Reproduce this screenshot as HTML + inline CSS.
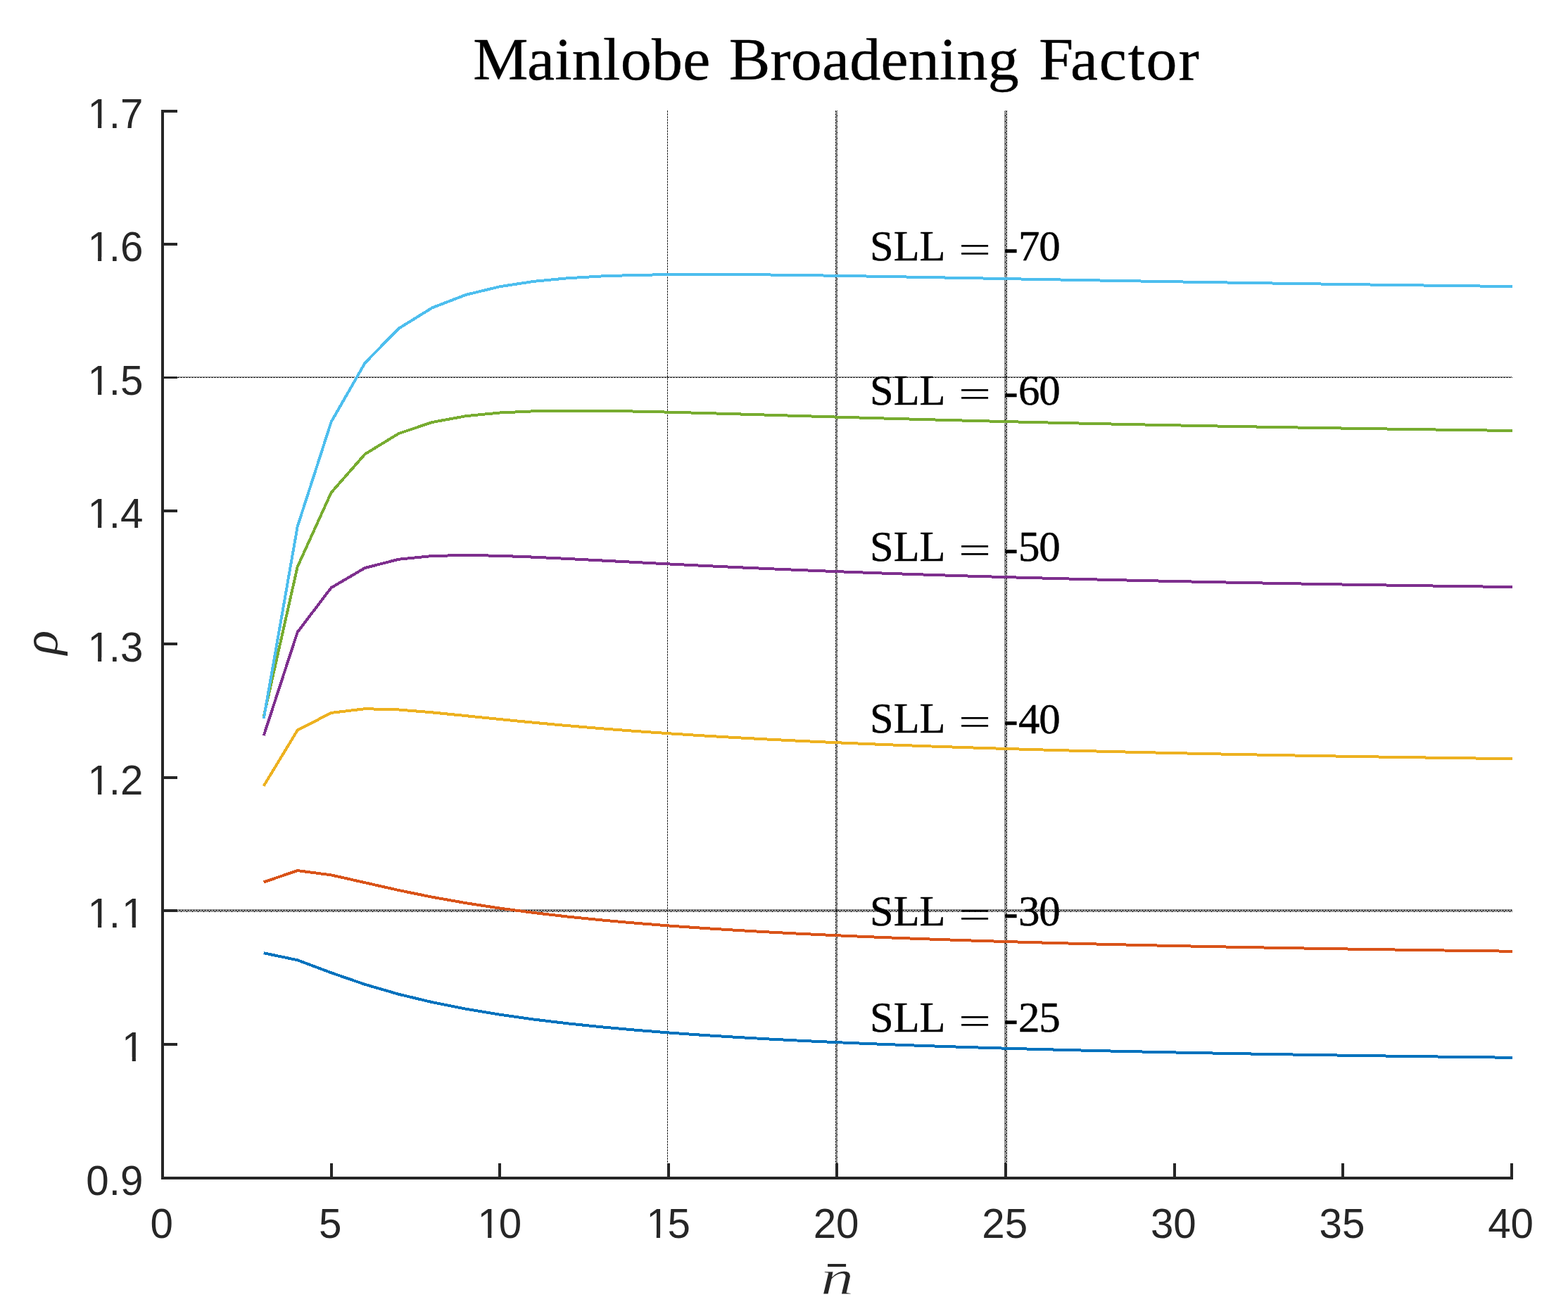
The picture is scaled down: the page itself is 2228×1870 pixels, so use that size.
<!DOCTYPE html>
<html lang="en"><head><meta charset="utf-8"><title>Mainlobe Broadening Factor</title>
<style>
html,body{margin:0;padding:0;background:#fff;}
body{width:2228px;height:1870px;overflow:hidden;}
svg{display:block;}
text{font-kerning:none;white-space:pre;}
.tk{font-family:"Liberation Sans",Arial,Helvetica,sans-serif;font-size:58.33px;fill:#262626;}
.rm{font-family:"Liberation Serif","Times New Roman",Times,serif;fill:#000;}
.it{font-family:"Liberation Serif","Times New Roman",Times,serif;font-style:italic;fill:#262626;}
</style></head><body>
<svg width="2228" height="1870" viewBox="0 0 2228 1870">
<defs>
<pattern id="v25" x="1427" y="157" width="4" height="8" patternUnits="userSpaceOnUse"><g fill="#262626" shape-rendering="crispEdges"><rect x="1" y="0" width="1" height="1"/><rect x="3" y="0" width="1" height="1"/><rect x="0" y="1" width="1" height="1"/><rect x="2" y="1" width="2" height="1"/><rect x="1" y="2" width="1" height="1"/><rect x="3" y="2" width="1" height="1"/><rect x="0" y="3" width="1" height="1"/><rect x="2" y="3" width="1" height="1"/><rect x="1" y="4" width="1" height="1"/><rect x="3" y="4" width="1" height="1"/><rect x="0" y="5" width="1" height="1"/><rect x="2" y="5" width="2" height="1"/><rect x="1" y="6" width="1" height="1"/><rect x="3" y="6" width="1" height="1"/><rect x="0" y="7" width="3" height="1"/></g></pattern>
<pattern id="v20" x="1187" y="157" width="3" height="8" patternUnits="userSpaceOnUse"><g fill="#262626" shape-rendering="crispEdges"><rect x="0" y="0" width="1" height="1"/><rect x="2" y="0" width="1" height="1"/><rect x="0" y="1" width="2" height="1"/><rect x="0" y="2" width="1" height="1"/><rect x="2" y="2" width="1" height="1"/><rect x="1" y="3" width="1" height="1"/><rect x="0" y="4" width="1" height="1"/><rect x="2" y="4" width="1" height="1"/><rect x="0" y="5" width="2" height="1"/><rect x="0" y="6" width="1" height="1"/><rect x="2" y="6" width="1" height="1"/><rect x="1" y="7" width="2" height="1"/></g></pattern>
<pattern id="v15" x="948" y="157" width="1" height="4" patternUnits="userSpaceOnUse"><g fill="#262626" shape-rendering="crispEdges"><rect x="0" y="0" width="1" height="1"/><rect x="0" y="1" width="1" height="1"/><rect x="0" y="2" width="1" height="1"/></g></pattern>
<pattern id="h15" x="252" y="535" width="4" height="2" patternUnits="userSpaceOnUse"><g fill="#262626" shape-rendering="crispEdges"><rect x="1" y="0" width="1" height="1"/><rect x="3" y="0" width="1" height="1"/><rect x="0" y="1" width="3" height="1"/></g></pattern>
<pattern id="h11" x="252" y="1292" width="8" height="4" patternUnits="userSpaceOnUse"><g fill="#262626" shape-rendering="crispEdges"><rect x="1" y="0" width="1" height="1"/><rect x="3" y="0" width="1" height="1"/><rect x="5" y="0" width="1" height="1"/><rect x="7" y="0" width="1" height="1"/><rect x="0" y="1" width="1" height="1"/><rect x="2" y="1" width="3" height="1"/><rect x="6" y="1" width="2" height="1"/><rect x="1" y="2" width="1" height="1"/><rect x="3" y="2" width="1" height="1"/><rect x="5" y="2" width="1" height="1"/><rect x="7" y="2" width="1" height="1"/><rect x="0" y="3" width="1" height="1"/><rect x="2" y="3" width="1" height="1"/><rect x="4" y="3" width="3" height="1"/></g></pattern>
<clipPath id="k1"><rect x="658.51" y="1689" width="104.88" height="64.45"/><rect x="658.51" y="1753.44" width="22.94" height="35.56"/><rect x="693.18" y="1753.44" width="5.16" height="35.56"/><rect x="709.6" y="1753.44" width="53.79" height="35.56"/></clipPath>
<clipPath id="k2"><rect x="898.13" y="1689" width="104.88" height="64.45"/><rect x="898.13" y="1753.44" width="22.94" height="35.56"/><rect x="932.8" y="1753.44" width="5.16" height="35.56"/><rect x="949.23" y="1753.44" width="53.79" height="35.56"/></clipPath>
<clipPath id="k3"><rect x="153.06" y="1438" width="72.44" height="64.45"/><rect x="153.06" y="1502.44" width="22.94" height="35.56"/><rect x="187.73" y="1502.44" width="5.16" height="35.56"/><rect x="204.15" y="1502.44" width="21.35" height="35.56"/></clipPath>
<clipPath id="k4"><rect x="104.41" y="1248" width="121.09" height="64.45"/><rect x="104.41" y="1312.44" width="22.94" height="35.56"/><rect x="139.08" y="1312.44" width="5.16" height="35.56"/><rect x="155.51" y="1312.44" width="20.5" height="35.56"/><rect x="187.73" y="1312.44" width="5.16" height="35.56"/><rect x="204.15" y="1312.44" width="21.35" height="35.56"/></clipPath>
<clipPath id="k5"><rect x="104.41" y="1059" width="121.09" height="64.45"/><rect x="104.41" y="1123.44" width="22.94" height="35.56"/><rect x="139.08" y="1123.44" width="5.16" height="35.56"/><rect x="155.51" y="1123.44" width="69.99" height="35.56"/></clipPath>
<clipPath id="k6"><rect x="104.41" y="870" width="121.09" height="64.45"/><rect x="104.41" y="934.44" width="22.94" height="35.56"/><rect x="139.08" y="934.44" width="5.16" height="35.56"/><rect x="155.51" y="934.44" width="69.99" height="35.56"/></clipPath>
<clipPath id="k7"><rect x="104.41" y="680" width="121.09" height="64.45"/><rect x="104.41" y="744.44" width="22.94" height="35.56"/><rect x="139.08" y="744.44" width="5.16" height="35.56"/><rect x="155.51" y="744.44" width="69.99" height="35.56"/></clipPath>
<clipPath id="k8"><rect x="104.41" y="491" width="121.09" height="64.45"/><rect x="104.41" y="555.44" width="22.94" height="35.56"/><rect x="139.08" y="555.44" width="5.16" height="35.56"/><rect x="155.51" y="555.44" width="69.99" height="35.56"/></clipPath>
<clipPath id="k9"><rect x="104.41" y="301" width="121.09" height="64.45"/><rect x="104.41" y="365.44" width="22.94" height="35.56"/><rect x="139.08" y="365.44" width="5.16" height="35.56"/><rect x="155.51" y="365.44" width="69.99" height="35.56"/></clipPath>
<clipPath id="k10"><rect x="104.41" y="112" width="121.09" height="64.45"/><rect x="104.41" y="176.44" width="22.94" height="35.56"/><rect x="139.08" y="176.44" width="5.16" height="35.56"/><rect x="155.51" y="176.44" width="69.99" height="35.56"/></clipPath>
</defs>
<g shape-rendering="crispEdges">
<rect x="948" y="157" width="1" height="1515" fill="url(#v15)"/>
<rect x="1187" y="157" width="3" height="1515" fill="url(#v20)"/>
<rect x="1427" y="157" width="4" height="1515" fill="url(#v25)"/>
<rect x="252" y="535" width="1897" height="2" fill="url(#h15)"/>
<rect x="252" y="1292" width="1897" height="4" fill="url(#h11)"/>
</g>
<g fill="none" stroke-width="4" stroke-linejoin="round" stroke-linecap="butt" shape-rendering="crispEdges">
<polyline stroke="#0072BD" points="374.77,1354.21 422.7,1364.27 470.62,1382.25 518.55,1398.83 566.48,1412.74 614.4,1424.24 662.33,1433.77 710.25,1441.75 758.17,1448.5 806.1,1454.27 854.02,1459.26 901.95,1463.61 949.88,1467.43 997.8,1470.81 1045.72,1473.83 1093.65,1476.53 1141.58,1478.97 1189.5,1481.17 1237.42,1483.18 1285.35,1485.02 1333.28,1486.7 1381.2,1488.25 1429.12,1489.68 1477.05,1491.01 1524.97,1492.24 1572.9,1493.39 1620.83,1494.46 1668.75,1495.46 1716.67,1496.4 1764.6,1497.28 1812.53,1498.11 1860.45,1498.89 1908.38,1499.63 1956.3,1500.33 2004.22,1501 2052.15,1501.63 2100.07,1502.22 2148,1502.79 2149,1502.79"/>
<polyline stroke="#D95319" points="374.77,1253.43 422.7,1237.08 470.62,1243.38 518.55,1254.2 566.48,1265.03 614.4,1274.76 662.33,1283.25 710.25,1290.6 758.17,1296.96 806.1,1302.5 854.02,1307.35 901.95,1311.63 949.88,1315.42 997.8,1318.8 1045.72,1321.83 1093.65,1324.56 1141.58,1327.03 1189.5,1329.28 1237.42,1331.34 1285.35,1333.22 1333.28,1334.96 1381.2,1336.55 1429.12,1338.03 1477.05,1339.41 1524.97,1340.69 1572.9,1341.88 1620.83,1342.99 1668.75,1344.04 1716.67,1345.02 1764.6,1345.94 1812.53,1346.81 1860.45,1347.63 1908.38,1348.41 1956.3,1349.14 2004.22,1349.84 2052.15,1350.5 2100.07,1351.13 2148,1351.73 2149,1351.73"/>
<polyline stroke="#EDB120" points="374.77,1116.7 422.7,1037.66 470.62,1012.93 518.55,1007.16 566.48,1008.46 614.4,1012.39 662.33,1017.17 710.25,1022.06 758.17,1026.75 806.1,1031.13 854.02,1035.17 901.95,1038.86 949.88,1042.23 997.8,1045.31 1045.72,1048.12 1093.65,1050.7 1141.58,1053.07 1189.5,1055.26 1237.42,1057.27 1285.35,1059.13 1333.28,1060.86 1381.2,1062.46 1429.12,1063.96 1477.05,1065.36 1524.97,1066.66 1572.9,1067.89 1620.83,1069.03 1668.75,1070.12 1716.67,1071.14 1764.6,1072.1 1812.53,1073.01 1860.45,1073.87 1908.38,1074.68 1956.3,1075.46 2004.22,1076.19 2052.15,1076.9 2100.07,1077.56 2148,1078.2 2149,1078.2"/>
<polyline stroke="#7E2F8E" points="374.77,1045.22 422.7,898.25 470.62,835.11 518.55,807.05 566.48,794.75 614.4,789.97 662.33,788.94 710.25,789.81 758.17,791.65 806.1,793.95 854.02,796.43 901.95,798.95 949.88,801.42 997.8,803.8 1045.72,806.07 1093.65,808.22 1141.58,810.25 1189.5,812.15 1237.42,813.94 1285.35,815.63 1333.28,817.21 1381.2,818.7 1429.12,820.1 1477.05,821.42 1524.97,822.67 1572.9,823.85 1620.83,824.96 1668.75,826.01 1716.67,827.01 1764.6,827.96 1812.53,828.86 1860.45,829.71 1908.38,830.53 1956.3,831.3 2004.22,832.04 2052.15,832.75 2100.07,833.42 2148,834.07 2149,834.07"/>
<polyline stroke="#77AC30" points="374.77,1018.33 422.7,805.37 470.62,699.92 518.55,645.36 566.48,616.04 614.4,599.94 662.33,591.13 710.25,586.48 758.17,584.3 806.1,583.6 854.02,583.8 901.95,584.56 949.88,585.65 997.8,586.93 1045.72,588.31 1093.65,589.74 1141.58,591.18 1189.5,592.6 1237.42,593.98 1285.35,595.33 1333.28,596.63 1381.2,597.88 1429.12,599.08 1477.05,600.23 1524.97,601.33 1572.9,602.38 1620.83,603.38 1668.75,604.34 1716.67,605.26 1764.6,606.14 1812.53,606.98 1860.45,607.78 1908.38,608.55 1956.3,609.29 2004.22,610 2052.15,610.68 2100.07,611.33 2148,611.96 2149,611.96"/>
<polyline stroke="#4DBEEE" points="374.77,1020.99 422.7,748.24 470.62,599.54 518.55,515.8 566.48,466.81 614.4,437.18 662.33,418.8 710.25,407.22 758.17,399.9 806.1,395.31 854.02,392.51 901.95,390.92 949.88,390.14 997.8,389.91 1045.72,390.07 1093.65,390.49 1141.58,391.09 1189.5,391.81 1237.42,392.61 1285.35,393.46 1333.28,394.33 1381.2,395.22 1429.12,396.1 1477.05,396.98 1524.97,397.84 1572.9,398.68 1620.83,399.51 1668.75,400.31 1716.67,401.09 1764.6,401.84 1812.53,402.57 1860.45,403.28 1908.38,403.96 1956.3,404.63 2004.22,405.27 2052.15,405.88 2100.07,406.48 2148,407.06 2149,407.06"/>
</g>
<g fill="#262626" shape-rendering="crispEdges">
<rect x="229" y="156" width="4" height="1520"/>
<rect x="229" y="1672" width="1921" height="4"/>
<rect x="469" y="1653" width="4" height="21"/>
<rect x="708" y="1653" width="4" height="21"/>
<rect x="948" y="1653" width="4" height="21"/>
<rect x="1187" y="1653" width="4" height="21"/>
<rect x="1427" y="1653" width="4" height="21"/>
<rect x="1667" y="1653" width="4" height="21"/>
<rect x="1906" y="1653" width="4" height="21"/>
<rect x="2146" y="1653" width="4" height="21"/>
<rect x="231" y="1672" width="21" height="4"/>
<rect x="231" y="1482" width="21" height="4"/>
<rect x="231" y="1292" width="21" height="4"/>
<rect x="231" y="1103" width="21" height="4"/>
<rect x="231" y="913" width="21" height="4"/>
<rect x="231" y="724" width="21" height="4"/>
<rect x="231" y="535" width="21" height="3"/>
<rect x="231" y="345" width="21" height="4"/>
<rect x="231" y="156" width="21" height="4"/>
</g>
<g class="tk">
<text x="213.38" y="1759">0</text>
<text x="453" y="1759">5</text>
<text x="678.51 708.85" y="1759" clip-path="url(#k1)">10</text>
<text x="918.13 948.48" y="1759" clip-path="url(#k2)">15</text>
<text x="1155.66 1188.1" y="1759">20</text>
<text x="1395.28 1427.72" y="1759">25</text>
<text x="1634.91 1667.35" y="1759">30</text>
<text x="1874.53 1906.97" y="1759">35</text>
<text x="2114.16 2146.6" y="1759">40</text>
<text x="122.31 154.75 170.96" y="1698">0.9</text>
<text x="173.06" y="1508" clip-path="url(#k3)">1</text>
<text x="124.41 154.75 173.06" y="1318" clip-path="url(#k4)">1.1</text>
<text x="124.41 154.75 170.96" y="1129" clip-path="url(#k5)">1.2</text>
<text x="124.41 154.75 170.96" y="940" clip-path="url(#k6)">1.3</text>
<text x="124.41 154.75 170.96" y="750" clip-path="url(#k7)">1.4</text>
<text x="124.41 154.75 170.96" y="561" clip-path="url(#k8)">1.5</text>
<text x="124.41 154.75 170.96" y="371" clip-path="url(#k9)">1.6</text>
<text x="124.41 154.75 170.96" y="182" clip-path="url(#k10)">1.7</text>
</g>
<text class="rm" font-size="88" transform="matrix(1 0 0 0.96 0 112.6)" x="672.35 748.91 788.22 812.83 857.11 881.72 926.01 970.29 1000.29 1035.63 1094.24 1123.69 1167.92 1207.17 1251.4 1290.65 1334.88 1359.45 1403.68 1433.68 1476.35 1520.91 1561.86 1602.81 1628.44 1674.57" y="0" stroke="#000" stroke-width="0.4" vector-effect="non-scaling-stroke" stroke-linejoin="round">Mainlobe Broadening Factor</text>
<text class="it" font-size="70" transform="matrix(1.3547 0 0 0.9926 1166.07 1839.42)" stroke="#fff" stroke-width="1.1" vector-effect="non-scaling-stroke">n</text>
<text class="it" font-size="40" transform="matrix(1.2570 0 0 2.1787 1172.42 1861.79)">¯</text>
<text class="it" font-size="68.9" transform="translate(81.33 930.18) rotate(-90) scale(1.0386 1)">ρ</text>
<g>
<text class="rm" font-size="61" transform="matrix(0.9895 0 0 1.0000 1236.09 1465.5)" stroke="#000" stroke-width="0.45" vector-effect="non-scaling-stroke" stroke-linejoin="round">SLL</text>
<text class="rm" font-size="61" transform="matrix(1.3387 0 0 0.9150 1362.03 1469)">=</text>
<text class="rm" font-size="61" x="1426.26 1446.88 1476.28" y="1466.9 1466.1 1466.1" stroke="#000" stroke-width="0.45" vector-effect="non-scaling-stroke" stroke-linejoin="round">-25</text>
<text class="rm" font-size="61" transform="matrix(0.9895 0 0 1.0000 1236.09 1314.5)" stroke="#000" stroke-width="0.45" vector-effect="non-scaling-stroke" stroke-linejoin="round">SLL</text>
<text class="rm" font-size="61" transform="matrix(1.3387 0 0 0.9150 1362.03 1318)">=</text>
<text class="rm" font-size="61" x="1426.26 1446.88 1476.28" y="1315.9 1315.1 1315.1" stroke="#000" stroke-width="0.45" vector-effect="non-scaling-stroke" stroke-linejoin="round">-30</text>
<text class="rm" font-size="61" transform="matrix(0.9895 0 0 1.0000 1236.09 1040.9)" stroke="#000" stroke-width="0.45" vector-effect="non-scaling-stroke" stroke-linejoin="round">SLL</text>
<text class="rm" font-size="61" transform="matrix(1.3387 0 0 0.9150 1362.03 1044.4)">=</text>
<text class="rm" font-size="61" x="1426.26 1446.88 1476.28" y="1042.3 1041.5 1041.5" stroke="#000" stroke-width="0.45" vector-effect="non-scaling-stroke" stroke-linejoin="round">-40</text>
<text class="rm" font-size="61" transform="matrix(0.9895 0 0 1.0000 1236.09 796.8)" stroke="#000" stroke-width="0.45" vector-effect="non-scaling-stroke" stroke-linejoin="round">SLL</text>
<text class="rm" font-size="61" transform="matrix(1.3387 0 0 0.9150 1362.03 800.3)">=</text>
<text class="rm" font-size="61" x="1426.26 1446.88 1476.28" y="798.2 797.4 797.4" stroke="#000" stroke-width="0.45" vector-effect="non-scaling-stroke" stroke-linejoin="round">-50</text>
<text class="rm" font-size="61" transform="matrix(0.9895 0 0 1.0000 1236.09 574.7)" stroke="#000" stroke-width="0.45" vector-effect="non-scaling-stroke" stroke-linejoin="round">SLL</text>
<text class="rm" font-size="61" transform="matrix(1.3387 0 0 0.9150 1362.03 578.2)">=</text>
<text class="rm" font-size="61" x="1426.26 1446.88 1476.28" y="576.1 575.3 575.3" stroke="#000" stroke-width="0.45" vector-effect="non-scaling-stroke" stroke-linejoin="round">-60</text>
<text class="rm" font-size="61" transform="matrix(0.9895 0 0 1.0000 1236.09 369.8)" stroke="#000" stroke-width="0.45" vector-effect="non-scaling-stroke" stroke-linejoin="round">SLL</text>
<text class="rm" font-size="61" transform="matrix(1.3387 0 0 0.9150 1362.03 373.3)">=</text>
<text class="rm" font-size="61" x="1426.26 1446.88 1476.28" y="371.2 370.4 370.4" stroke="#000" stroke-width="0.45" vector-effect="non-scaling-stroke" stroke-linejoin="round">-70</text>
</g>
</svg></body></html>
